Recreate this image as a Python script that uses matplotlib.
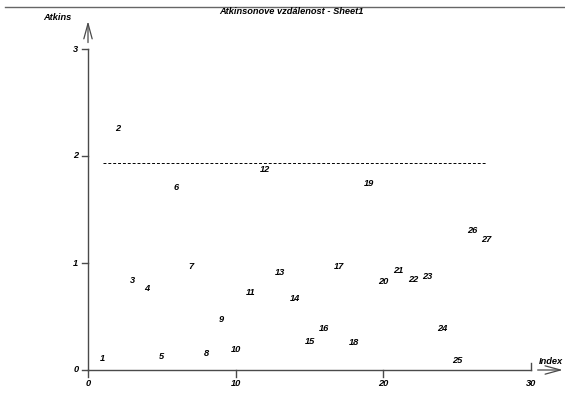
import matplotlib

matplotlib.use("Agg")
import matplotlib.pyplot as plt
from matplotlib.lines import Line2D

W, H = 565, 394

# data
index = list(range(1, 28))
atkins = [0.11, 2.26, 0.84, 0.76, 0.13, 1.71, 0.97, 0.15, 0.47, 0.19,
          0.72, 1.87, 0.91, 0.67, 0.27, 0.39, 0.97, 0.26, 1.74, 0.83,
          0.93, 0.85, 0.87, 0.39, 0.09, 1.30, 1.22]
limit = 1.93
xticks = [0, 10, 20, 30]
yticks = [0, 1, 2, 3]

AX = "#4a4a4a"
FONT = dict(family="Liberation Sans", weight="bold", style="italic", fontsize=6.7)

fig = plt.figure(figsize=(W / 100, H / 100), dpi=100)
ax = fig.add_axes([88 / W, 1 - 370 / H, (531 - 88) / W, (370 - 49) / H])
ax.set_xlim(0, 30)
ax.set_ylim(0, 3)
ax.axis("off")

# points drawn as their index labels
for i, v in zip(index, atkins):
    ax.text(i, v, str(i), ha="center", va="center", **FONT)

# dashed limit line
ax.plot([index[0], index[-1]], [limit, limit], color="black", lw=0.7,
        dashes=(3, 2), clip_on=False)

# axes lines
ax.plot([0, 30], [0, 0], color=AX, lw=1.0, clip_on=False)
ax.plot([0, 0], [0, 3], color=AX, lw=1.0, clip_on=False)
for t in xticks[:-1]:
    ax.plot([t, t], [0, -0.07], color=AX, lw=1.0, clip_on=False)
ax.plot([30, 30], [0, 0.07], color=AX, lw=1.0, clip_on=False)
for t in yticks:
    ax.plot([0, -0.4], [t, t], color=AX, lw=1.0, clip_on=False)
    ax.text(-0.65, t, str(t), ha="right", va="center", **FONT)
for t in xticks:
    ax.text(t, -0.08, str(t), ha="center", va="top", **FONT)

# arrows
ax.annotate("", xy=(0, 3.26), xytext=(0, 3.06), annotation_clip=False,
            arrowprops=dict(arrowstyle="->,head_length=1.1,head_width=0.3",
                            color=AX, lw=0.9, shrinkA=0, shrinkB=0))
ax.annotate("", xy=(32.15, 0.0), xytext=(30.45, 0.0), annotation_clip=False,
            arrowprops=dict(arrowstyle="->,head_length=1.1,head_width=0.3",
                            color=AX, lw=0.9, shrinkA=0, shrinkB=0))

fig.text(57 / W, 1 - 17 / H, "Atkins", ha="center", va="center", **FONT)
fig.text(563 / W, 1 - 361 / H, "Index", ha="right", va="center", **FONT)
fig.text(291 / W, 1 - 12 / H, "Atkinsonove vzdálenost - Sheet1",
         ha="center", va="center", **FONT)
fig.add_artist(Line2D([5 / W, 1], [1 - 7 / H, 1 - 7 / H], color="#666666",
                      lw=1.0, transform=fig.transFigure))

fig.savefig("out.png", dpi=100)
